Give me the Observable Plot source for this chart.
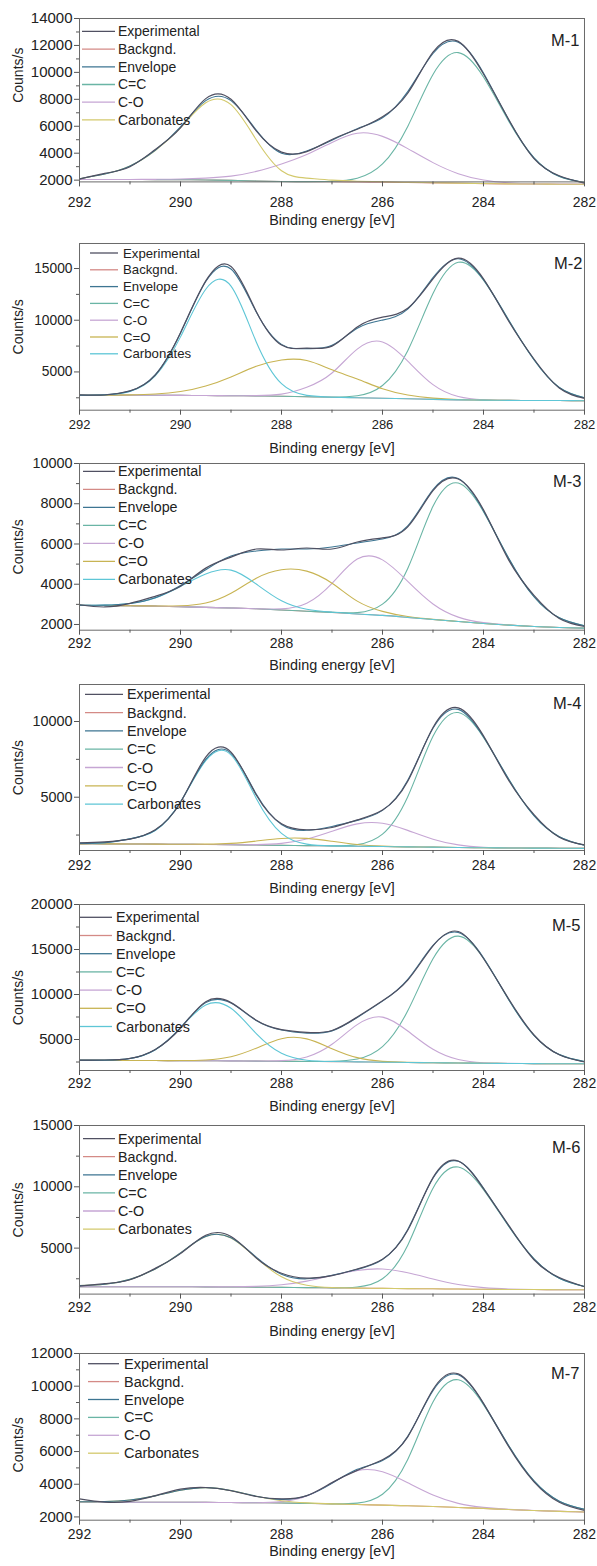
<!DOCTYPE html>
<html><head><meta charset="utf-8">
<script src="https://cdn.jsdelivr.net/npm/d3@7"></script>
<script src="https://cdn.jsdelivr.net/npm/@observablehq/plot@0.6"></script>
<style>
body{margin:0;background:#fff;}
#root{position:relative;width:597px;height:1566px;overflow:hidden;font-family:"Liberation Sans",Arial,sans-serif;}
#root svg{position:absolute;left:0;overflow:visible;}
</style></head><body><div id="root"></div>
<script>
// Shared binding-energy grid (eV)
const energy = [292, 291.5, 291, 290.5, 290, 289.5, 289, 288.5, 288, 287.5, 287, 286.5, 286, 285.5, 285, 284.5, 284, 283.5, 283, 282.5, 282];
const xTicks = [292, 290, 288, 286, 284, 282];
const xMinor = [291, 289, 287, 285, 283];

// ---------- M-1 ----------
const m1_bg   = [2050,2050,2050,2040,2030,2010,1980,1940,1900,1890,1880,1860,1850,1820,1800,1770,1740,1720,1710,1700,1700];
const m1_carb = [2100,2450,3050,4200,5900,7750,7600,5000,2700,2150,2000,1920,1880,1840,1810,1780,1750,1725,1710,1700,1700];
const m1_co   = [2050,2050,2050,2060,2080,2150,2300,2650,3200,3900,4800,5480,5250,4340,3300,2480,2010,1800,1720,1705,1700];
const m1_cc   = [2050,2050,2050,2040,2030,2010,1980,1940,1900,1890,1915,2140,3200,5990,9850,11470,9660,6380,3650,2280,1830];
const m1_env  = [2100,2450,3050,4220,5950,7900,7900,5710,4000,4160,4955,5820,6630,8570,11400,12230,9950,6470,3660,2285,1830];
const m1_exp  = [2080,2500,3000,4280,5880,8050,8000,5650,4080,4120,5020,5780,6700,8450,11500,12300,9880,6500,3600,2330,1780];
const m1_yticks = [2000,4000,6000,8000,10000,12000,14000];
const m1_yminor = [3000,5000,7000,9000,11000,13000];

// ---------- M-2 ----------
const m2_bg   = [2750,2750,2750,2740,2730,2720,2700,2680,2650,2600,2550,2500,2450,2400,2350,2300,2270,2250,2240,2230,2220];
const m2_carb = [2750,2794,3116,4616,8390,13000,13300,7900,3860,2730,2557,2500,2450,2400,2350,2300,2270,2250,2240,2230,2220];
const m2_cdo  = [2750,2756,2780,2860,3100,3640,4520,5540,6150,6100,5200,4320,3370,2770,2470,2330,2275,2250,2240,2230,2220];
const m2_co   = [2750,2750,2750,2740,2730,2720,2700,2710,2855,3520,4900,7210,7900,6050,3770,2620,2310,2250,2240,2230,2220];
const m2_cc   = [2750,2750,2750,2740,2730,2720,2700,2680,2650,2600,2570,2697,3693,7055,12580,15600,13880,10000,6180,3500,2500];
const m2_env  = [2750,2800,3146,4736,8760,13740,14950,10790,7665,7250,7576,9227,10013,11075,14120,15950,13920,10000,6180,3500,2500];
const m2_exp  = [2780,2770,3180,4700,8800,13800,15200,10850,7600,7300,7500,9350,10300,11150,14000,16000,14000,9900,6250,3450,2450];
const m2_yticks = [5000,10000,15000];
const m2_yminor = [2500,7500,12500];

// ---------- M-3 ----------
const m3_bg   = [2950,2940,2930,2910,2880,2850,2820,2780,2720,2660,2600,2520,2450,2350,2250,2150,2050,1970,1900,1850,1820];
const m3_carb = [2953,2962,3046,3322,3890,4503,4700,4010,3178,2755,2611,2520,2450,2350,2250,2150,2050,1970,1900,1850,1820];
const m3_cdo  = [2950,2940,2930,2917,2927,3065,3550,4300,4720,4650,4050,3160,2650,2393,2255,2150,2050,1970,1900,1850,1820];
const m3_co   = [2950,2940,2930,2910,2880,2850,2820,2784,2773,3050,4040,5250,5210,4140,3020,2366,2090,1975,1900,1850,1820];
const m3_cc   = [2950,2940,2930,2910,2880,2850,2820,2780,2720,2660,2600,2588,3010,4785,7870,9030,7605,5280,3377,2333,1937];
const m3_env  = [2953,2962,3046,3330,3940,4720,5400,5650,5750,5750,5850,6050,6250,6900,8700,9250,7645,5285,3377,2333,1937];
const m3_exp  = [2980,2870,3050,3400,3900,4800,5350,5750,5700,5800,5750,6100,6300,6850,8650,9230,7700,5200,3450,2300,1900];
const m3_yticks = [2000,4000,6000,8000,10000];
const m3_yminor = [3000,5000,7000,9000];

// ---------- M-4 ----------
const m4_bg   = [1920,1920,1910,1900,1890,1880,1860,1840,1820,1800,1780,1760,1740,1720,1700,1680,1660,1650,1640,1630,1620];
const m4_carb = [1950,2000,2250,2800,4675,7420,7800,4920,2610,1900,1785,1760,1740,1720,1700,1680,1660,1650,1640,1630,1620];
const m4_cdo  = [1920,1920,1910,1900,1890,1900,1950,2104,2277,2280,2086,1878,1768,1720,1700,1680,1660,1650,1640,1630,1620];
const m4_co   = [1920,1920,1910,1900,1890,1880,1860,1867,1952,2234,2750,3240,3280,2810,2228,1852,1698,1655,1640,1630,1620];
const m4_cc   = [1920,1920,1910,1900,1890,1880,1860,1840,1820,1800,1788,1870,2560,5030,9020,10590,8950,6190,3780,2395,1827];
const m4_env  = [1950,2000,2250,2820,4685,7500,7900,5211,3199,2814,3069,3468,4128,6120,9548,10800,8988,6190,3780,2395,1827];
const m4_exp  = [1980,2050,2230,2850,4650,7650,7980,5150,3250,2850,3000,3500,4150,6050,9600,10900,9050,6100,3850,2350,1850];
const m4_yticks = [5000,10000];
const m4_yminor = [2500,7500];

// ---------- M-5 ----------
const m5_bg   = [2680,2680,2670,2660,2650,2640,2620,2600,2580,2560,2540,2510,2480,2450,2420,2390,2360,2340,2320,2310,2300];
const m5_carb = [2680,2702,2886,3860,6300,8840,8470,5660,3470,2703,2553,2510,2480,2450,2420,2390,2360,2340,2320,2310,2300];
const m5_cdo  = [2680,2680,2670,2660,2660,2730,3093,4040,5090,5070,3980,2983,2570,2460,2420,2390,2360,2340,2320,2310,2300];
const m5_co   = [2680,2680,2670,2660,2650,2640,2620,2606,2651,3060,4470,6650,7490,5940,3910,2776,2421,2345,2320,2310,2300];
const m5_cc   = [2680,2680,2670,2660,2650,2640,2620,2600,2580,2560,2575,2825,4200,8190,13970,16485,14030,9420,5465,3325,2543];
const m5_env  = [2680,2702,2886,3860,6310,9100,9050,7106,6051,5713,5958,7438,9260,11690,15460,16880,14091,9425,5465,3325,2543];
const m5_exp  = [2700,2720,2900,3900,6250,9200,9100,7150,6100,5800,6000,7500,9300,11600,15400,17000,14000,9500,5500,3300,2500];
const m5_yticks = [5000,10000,15000,20000];
const m5_yminor = [2500,7500,12500,17500];

// ---------- M-6 ----------
const m6_bg   = [1850,1850,1850,1850,1850,1840,1830,1820,1800,1780,1760,1740,1720,1700,1680,1660,1640,1630,1620,1610,1600];
const m6_carb = [1950,2050,2450,3300,4600,5955,5830,4197,2660,1968,1785,1740,1720,1700,1680,1660,1640,1630,1620,1610,1600];
const m6_co   = [1850,1850,1850,1850,1850,1843,1845,1884,2012,2308,2760,3176,3295,2986,2482,2038,1775,1666,1625,1612,1600];
const m6_cc   = [1850,1850,1850,1850,1850,1840,1830,1820,1800,1780,1760,1830,2506,5240,9890,11615,9770,6770,4120,2545,1870];
const m6_env  = [1950,2050,2450,3300,4603,5958,5845,4261,2872,2496,2785,3266,4066,6526,10692,12080,9905,6806,4120,2545,1870];
const m6_exp  = [1900,2100,2420,3350,4550,6050,5950,4200,2950,2550,2750,3300,4100,6450,10750,12100,9850,6850,4050,2600,1850];
const m6_yticks = [5000,10000,15000];
const m6_yminor = [2500,7500,12500];

// ---------- M-7 ----------
const m7_bg   = [2920,2910,2900,2900,2900,2890,2880,2870,2850,2830,2800,2760,2720,2680,2640,2580,2520,2450,2390,2340,2300];
const m7_carb = [2925,2942,3038,3290,3630,3790,3610,3260,2988,2862,2800,2760,2720,2680,2640,2580,2520,2450,2390,2340,2300];
const m7_co   = [2920,2910,2900,2900,2900,2890,2880,2870,2938,3276,4073,4827,4760,4090,3340,2830,2583,2460,2390,2340,2300];
const m7_cc   = [2920,2910,2900,2900,2900,2890,2880,2870,2850,2830,2800,2846,3390,5520,9030,10390,8870,6350,4200,2964,2464];
const m7_env  = [2925,2942,3038,3290,3630,3790,3612,3270,3076,3298,4053,4913,5450,6930,9730,10700,8933,6360,4200,2964,2464];
const m7_exp  = [3100,2900,2950,3300,3700,3800,3600,3250,3100,3300,4100,4850,5500,6900,9800,10750,8950,6300,4150,2900,2400];
const m7_yticks = [2000,4000,6000,8000,10000,12000];
const m7_yminor = [3000,5000,7000,9000,11000];

// ---------- styles ----------
const C = {exp:"#505062", bg:"#d48a86", env:"#3d7592", cc:"#6ab5a5", co:"#c6a6d4", cdo:"#c8b453", carbCyan:"#5ec6d6", carbYellow:"#d3c96c"};
const labels = {exp:"Experimental", bg:"Backgnd.", env:"Envelope", cc:"C=C", co:"C-O", cdo:"C=O", carb:"Carbonates"};

function S(key, values, color){ return {key, values, color}; }

const panels = [
 {id:"M-1", series:[S("bg",m1_bg,C.bg),S("cc",m1_cc,C.cc),S("co",m1_co,C.co),S("carb",m1_carb,C.carbYellow),S("env",m1_env,C.env),S("exp",m1_exp,C.exp)],
  legend:["exp","bg","env","cc","co","carb"], yticks:m1_yticks, yminor:m1_yminor},
 {id:"M-2", series:[S("bg",m2_bg,C.bg),S("cc",m2_cc,C.cc),S("co",m2_co,C.co),S("cdo",m2_cdo,C.cdo),S("carb",m2_carb,C.carbCyan),S("env",m2_env,C.env),S("exp",m2_exp,C.exp)],
  legend:["exp","bg","env","cc","co","cdo","carb"], yticks:m2_yticks, yminor:m2_yminor},
 {id:"M-3", series:[S("bg",m3_bg,C.bg),S("cc",m3_cc,C.cc),S("co",m3_co,C.co),S("cdo",m3_cdo,C.cdo),S("carb",m3_carb,C.carbCyan),S("env",m3_env,C.env),S("exp",m3_exp,C.exp)],
  legend:["exp","bg","env","cc","co","cdo","carb"], yticks:m3_yticks, yminor:m3_yminor},
 {id:"M-4", series:[S("bg",m4_bg,C.bg),S("cc",m4_cc,C.cc),S("co",m4_co,C.co),S("cdo",m4_cdo,C.cdo),S("carb",m4_carb,C.carbCyan),S("env",m4_env,C.env),S("exp",m4_exp,C.exp)],
  legend:["exp","bg","env","cc","co","cdo","carb"], yticks:m4_yticks, yminor:m4_yminor},
 {id:"M-5", series:[S("bg",m5_bg,C.bg),S("cc",m5_cc,C.cc),S("co",m5_co,C.co),S("cdo",m5_cdo,C.cdo),S("carb",m5_carb,C.carbCyan),S("env",m5_env,C.env),S("exp",m5_exp,C.exp)],
  legend:["exp","bg","env","cc","co","cdo","carb"], yticks:m5_yticks, yminor:m5_yminor},
 {id:"M-6", series:[S("bg",m6_bg,C.bg),S("cc",m6_cc,C.cc),S("co",m6_co,C.co),S("carb",m6_carb,C.carbYellow),S("env",m6_env,C.env),S("exp",m6_exp,C.exp)],
  legend:["exp","bg","env","cc","co","carb"], yticks:m6_yticks, yminor:m6_yminor},
 {id:"M-7", series:[S("bg",m7_bg,C.bg),S("cc",m7_cc,C.cc),S("co",m7_co,C.co),S("carb",m7_carb,C.carbYellow),S("env",m7_env,C.env),S("exp",m7_exp,C.exp)],
  legend:["exp","bg","env","cc","co","carb"], yticks:m7_yticks, yminor:m7_yminor}
];

// layout (pixel geometry per panel)
const layout = [
 {top:18.3,  bottom:181.7, yDomain:[1870,14000], xPad:10, xlab:38, ylabDy:-25, leg:[13.4,17.7,82,115,118], legFont:14,   yFont:15,   xFont:14, mDy:22, mDx:-5},
 {top:243.3, bottom:410,   yDomain:[1300,17420], xPad:5,  xlab:38, ylabDy:0,   leg:[10,16.8,90,118,123],   legFont:13.2, yFont:13.8, xFont:13, mDy:20, mDx:-2},
 {top:463.3, bottom:630,   yDomain:[1716,10000], xPad:3,  xlab:35, ylabDy:0,   leg:[8.4,18,83,115,118],    legFont:14.3, yFont:14.4, xFont:14, mDy:18, mDx:-3},
 {top:684,   bottom:850,   yDomain:[1480,12444], xPad:5,  xlab:38, ylabDy:0,   leg:[10.3,18.3,85,123,127], legFont:14.3, yFont:14.4, xFont:14, mDy:19, mDx:-3},
 {top:904,   bottom:1070,  yDomain:[1556,20000], xPad:3,  xlab:36, ylabDy:10,  leg:[13.3,18.2,80,112,116], legFont:14.3, yFont:15,   xFont:14, mDy:21, mDx:-4},
 {top:1124.7,bottom:1293.3,yDomain:[1250,15000], xPad:3.4,xlab:37, ylabDy:0,   leg:[13.6,18.1,83,115,118], legFont:14.3, yFont:14.4, xFont:14, mDy:22, mDx:-4},
 {top:1353.3,bottom:1520,  yDomain:[1800,12000], xPad:4,  xlab:31, ylabDy:8,   leg:[10.7,17.9,88,119,124], legFont:14.5, yFont:15,   xFont:14, mDy:20, mDx:-5}
];

const root = document.getElementById("root");
const FONT = "'Liberation Sans', Arial, sans-serif";

panels.forEach((p, k) => {
  const L = layout[k];
  const mt = 10, mb = 52;
  const h = mt + (L.bottom - L.top) + mb;
  const lines = p.series.map(s => {
    const pts = energy.map((x, i) => ({x, y: s.values[i]}));
    return Plot.line(pts, {x: "x", y: "y", stroke: s.color, strokeWidth: s.key === "exp" ? 1.2 : 1.1, curve: "natural"});
  });
  const svg = Plot.plot({
    width: 597, height: h,
    marginLeft: 79, marginRight: 13, marginTop: mt, marginBottom: mb,
    style: {fontFamily: FONT, fontSize: "14px", color: "#222", background: "transparent", overflow: "visible"},
    x: {domain: [292, 282]},
    y: {domain: L.yDomain},
    marks: [
      ...lines,
      Plot.frame({stroke: "#6a6a6a", strokeWidth: 1}),
      Plot.axisX({ticks: xTicks, tickSize: 5, tickPadding: L.xPad, tickFormat: d => String(d), fontSize: L.xFont, label: null, stroke: "#555"}),
      Plot.axisX({ticks: xMinor, tickSize: 3, tickFormat: () => "", label: null, stroke: "#555"}),
      Plot.axisY({ticks: p.yticks, tickSize: 5, tickPadding: 2, tickFormat: d => String(d), fontSize: L.yFont, label: null, stroke: "#555"}),
      Plot.axisY({ticks: p.yminor, tickSize: 3, tickFormat: () => "", label: null, stroke: "#555"}),
      Plot.text(["Binding energy [eV]"], {text: d => d, frameAnchor: "bottom", dy: L.xlab, fontSize: 14.4, textAnchor: "middle", lineAnchor: "middle", fill: "#222"}),
      Plot.text(["Counts/s"], {text: d => d, frameAnchor: "left", dx: -61, dy: L.ylabDy, rotate: -90, fontSize: 14, textAnchor: "middle", lineAnchor: "middle", fill: "#222"}),
      Plot.text([p.id], {text: d => d, frameAnchor: "top-right", dx: L.mDx, dy: L.mDy, fontSize: 16.5, textAnchor: "end", lineAnchor: "middle", fill: "#222"})
    ]
  });
  svg.style.top = (L.top - mt) + "px";
  // legend
  const g = d3.select(svg).append("g")
    .attr("font-family", FONT).attr("font-size", L.legFont).attr("fill", "#222").attr("text-anchor", "start");
  const [lt, ls, x1, x2, tx] = L.leg;
  p.legend.forEach((key, i) => {
    const s = p.series.find(d => d.key === key);
    const y = mt + lt + i * ls;
    g.append("line").attr("x1", x1).attr("x2", x2).attr("y1", y).attr("y2", y).attr("stroke", s.color).attr("stroke-width", 1.3);
    g.append("text").attr("x", tx).attr("y", y).attr("dy", "0.35em").attr("text-anchor", "start").text(labels[key]);
  });
  root.appendChild(svg);
});
</script>
</body></html>
